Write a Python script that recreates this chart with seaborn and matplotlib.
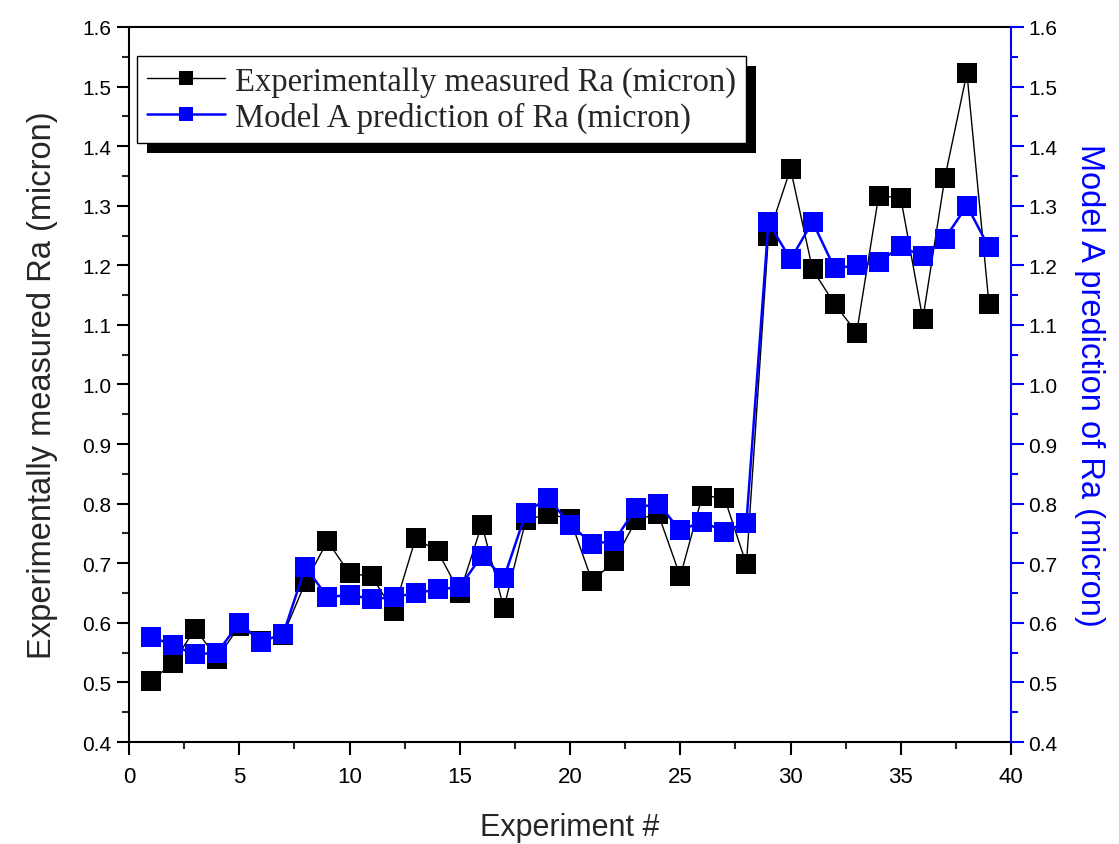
"""
Experimentally measured Ra compared with the Model A prediction
for each of the 39 experiments.
"""

import matplotlib.pyplot as plt
import pandas as pd
import seaborn as sns
from matplotlib.patches import Rectangle
from matplotlib.ticker import MultipleLocator
from matplotlib.transforms import IdentityTransform

# --------------------------------------------------------
# Data
# --------------------------------------------------------

experiment = list(range(1, 40))

measured_ra = [
    0.502, 0.533, 0.590, 0.540, 0.595, 0.570, 0.580, 0.668, 0.737, 0.683,
    0.678, 0.620, 0.742, 0.720, 0.650, 0.765, 0.625, 0.773, 0.782, 0.775,
    0.670, 0.703, 0.773, 0.783, 0.678, 0.813, 0.810, 0.698, 1.250, 1.362,
    1.193, 1.135, 1.087, 1.317, 1.313, 1.110, 1.347, 1.523, 1.135,
]

model_a_ra = [
    0.577, 0.562, 0.547, 0.550, 0.600, 0.568, 0.582, 0.694, 0.643, 0.647,
    0.640, 0.643, 0.650, 0.656, 0.660, 0.713, 0.675, 0.785, 0.810, 0.765,
    0.733, 0.737, 0.793, 0.800, 0.755, 0.770, 0.753, 0.768, 1.272, 1.210,
    1.273, 1.195, 1.200, 1.205, 1.232, 1.215, 1.245, 1.300, 1.230,
]

measured_label = "Experimentally measured Ra (micron)"
model_label = "Model A prediction of Ra (micron)"

df = pd.DataFrame({
    "experiment": experiment,
    "measured": measured_ra,
    "model": model_a_ra,
})

# --------------------------------------------------------
# Settings
# --------------------------------------------------------

sns.set_theme(style="ticks")

plt.rcParams["font.family"] = ["Liberation Sans", "DejaVu Sans"]

SERIF = ["Liberation Serif", "DejaVu Serif"]
BLUE = "#0000ff"

Y_MIN, Y_MAX = 0.4, 1.6

fig = plt.figure(figsize=(11.19, 8.45), dpi=100)
ax = fig.add_axes([0.1153, 0.1207, 0.7882, 0.8462])
ax2 = ax.twinx()

sns.lineplot(
    data=df,
    x="experiment",
    y="measured",
    ax=ax,
    color="black",
    linewidth=1.0,
    marker="s",
    markersize=14,
    markeredgewidth=0,
    label=measured_label,
    legend=False,
)

sns.lineplot(
    data=df,
    x="experiment",
    y="model",
    ax=ax2,
    color=BLUE,
    linewidth=1.8,
    marker="s",
    markersize=14,
    markeredgewidth=0,
    label=model_label,
    legend=False,
)

# axes ranges and ticks
ax.set_xlim(0, 40)
ax.set_ylim(Y_MIN, Y_MAX)
ax2.set_ylim(Y_MIN, Y_MAX)

ax.xaxis.set_major_locator(MultipleLocator(5))
ax.xaxis.set_minor_locator(MultipleLocator(2.5))
for a in (ax, ax2):
    a.yaxis.set_major_locator(MultipleLocator(0.1))
    a.yaxis.set_minor_locator(MultipleLocator(0.05))
    a.yaxis.set_major_formatter("{x:.1f}")

ax.tick_params(which="major", direction="out", length=9, width=1.5,
               labelsize=15, colors="black")
ax.tick_params(which="minor", direction="out", length=5, width=1.5)
ax.tick_params(axis="x", which="major", labelsize=16, pad=8)
ax2.tick_params(which="major", direction="out", length=9, width=1.5,
                labelsize=15, color=BLUE, labelcolor="black")
ax2.tick_params(which="minor", direction="out", length=5, width=1.5,
                color=BLUE)

for side in ("left", "bottom", "top"):
    ax.spines[side].set_linewidth(1.5)
    ax.spines[side].set_color("black")
ax.spines["right"].set_visible(False)
ax2.spines["right"].set_color(BLUE)
ax2.spines["right"].set_linewidth(1.5)
for side in ("left", "bottom", "top"):
    ax2.spines[side].set_visible(False)

ax.set_xlabel("Experiment #", fontsize=22, labelpad=18)
ax.set_ylabel(measured_label, fontsize=23.5, labelpad=18)
ax2.set_ylabel(model_label, fontsize=23.5, color=BLUE,
               rotation=270, labelpad=34)

# legend with a hard black shadow
handles = ax.get_lines()[:1] + ax2.get_lines()[:1]
legend = ax2.legend(
    handles,
    [measured_label, model_label],
    loc="upper left",
    bbox_to_anchor=(0.009, 0.96),
    borderaxespad=0,
    frameon=True,
    fancybox=False,
    edgecolor="black",
    framealpha=1,
    prop={"family": SERIF, "size": 23.5},
    markerscale=0.75,
    handlelength=2.4,
    handletextpad=0.3,
    labelspacing=0.15,
    borderpad=0.3,
)
legend.get_frame().set_linewidth(1.0)

fig.canvas.draw()
box = legend.get_frame().get_window_extent()
ax2.add_artist(Rectangle(
    (box.x0 + 10, box.y0 - 10),
    box.width,
    box.height,
    transform=IdentityTransform(),
    facecolor="black",
    edgecolor="none",
    zorder=4.9,
    clip_on=False,
))

plt.savefig("out.png", dpi=100)

plt.close()
